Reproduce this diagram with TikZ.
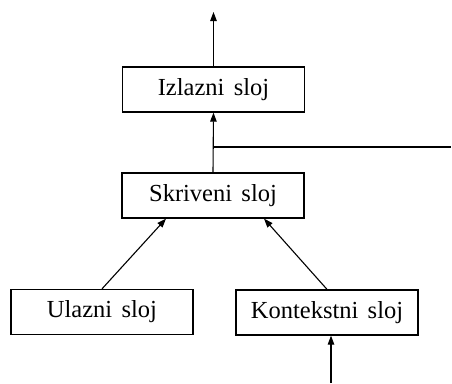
\documentclass[tikz,border=0pt]{standalone}
\usepackage{fontspec}
\setmainfont{Liberation Serif}
\usetikzlibrary{arrows.meta}
\newcommand\lyrfont{\fontsize{24.5}{28}\selectfont\spaceskip=0.38em\relax}
\begin{document}
\begin{tikzpicture}[x=1pt,y=-1pt,
  layer/.style={draw,line width=1.3pt,minimum width=182pt,minimum height=45pt,inner sep=0pt,font=\lyrfont},
  conn/.style={line width=1.1pt,-{Triangle[length=9pt,width=6.5pt]}}]
\useasboundingbox (0,0) rectangle (452,383);
\node[layer] (i) at (213.5,89.5) {Izlazni sloj};
\node[layer] (s) at (213,195.5) {Skriveni sloj};
\node[layer] (u) at (102,312) {Ulazni sloj};
\node[layer] (k) at (327,312.5) {Kontekstni sloj};
\coordinate (top) at (213.5,12);
\coordinate (branch) at (213.5,147);
\coordinate (right) at (451,147);
\coordinate (bottom) at (331,383);
\draw[conn] (i.north) -- (top);
\draw[conn] (s.north) -- (i.south);
\draw[line width=1.1pt] (branch) -- (right);
\draw[conn] (u.north) -- ([xshift=-47pt]s.south);
\draw[conn] (k.north) -- ([xshift=51pt]s.south);
\draw[conn] (bottom) -- ([xshift=4pt]k.south);
\end{tikzpicture}
\end{document}
